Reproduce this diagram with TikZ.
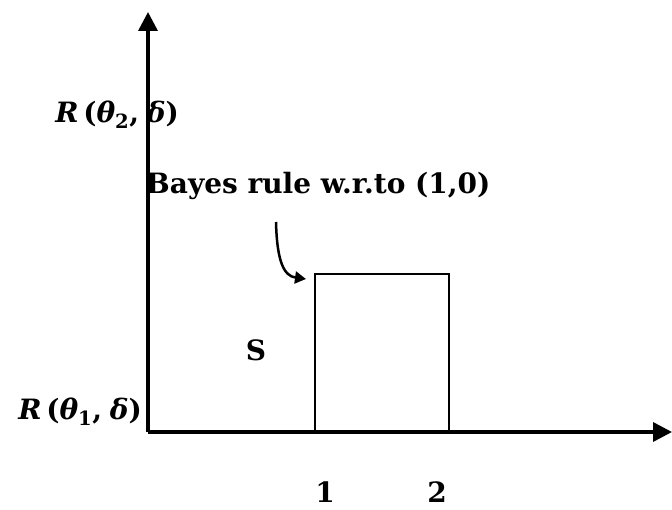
\documentclass[tikz,border=0pt]{standalone}
\usepackage{fontspec}
\setmainfont{DejaVu Serif}
\usetikzlibrary{arrows.meta}
\begin{document}
\begin{tikzpicture}[x=1pt,y=-1pt,
  lbl/.style={font=\fontsize{28}{32}\selectfont\bfseries, inner sep=0pt},
  axis/.style={line width=3.5pt, -{Triangle[length=19pt,width=19pt]}}]
\useasboundingbox (0,0) rectangle (672,510);
\coordinate (O) at (148,432);
\coordinate (Y) at (148,12);
\coordinate (X) at (672,432);
\draw[axis] (O) -- (Y);
\draw[axis] (O) -- (X);
\node[draw, line width=2.2pt, minimum width=134pt, minimum height=157pt, anchor=south west, inner sep=0pt] (S) at (314,432) {};
\node[lbl, anchor=east] (r2) at (179,115) {\textit{R}\,(\textit{θ}\textsubscript{2},\;\textit{δ})};
\node[lbl, anchor=east] (r1) at (142,412) {\textit{R}\,(\textit{θ}\textsubscript{1},\;\textit{δ})};
\node[lbl, anchor=west] (bayes) at (146,186) {Bayes rule w.r.to (1,0)};
\node[lbl] (s) at (256,350) {S};
\node[lbl] (one) at (325,492) {1};
\node[lbl] (two) at (437,492) {2};
\coordinate (a0) at (276,222);
\coordinate (a1) at (306,279);
\draw[line width=2.5pt, -{Triangle[length=11pt,width=12pt]}] (a0) .. controls (277,262) and (284,276) .. (a1);
\end{tikzpicture}
\end{document}
